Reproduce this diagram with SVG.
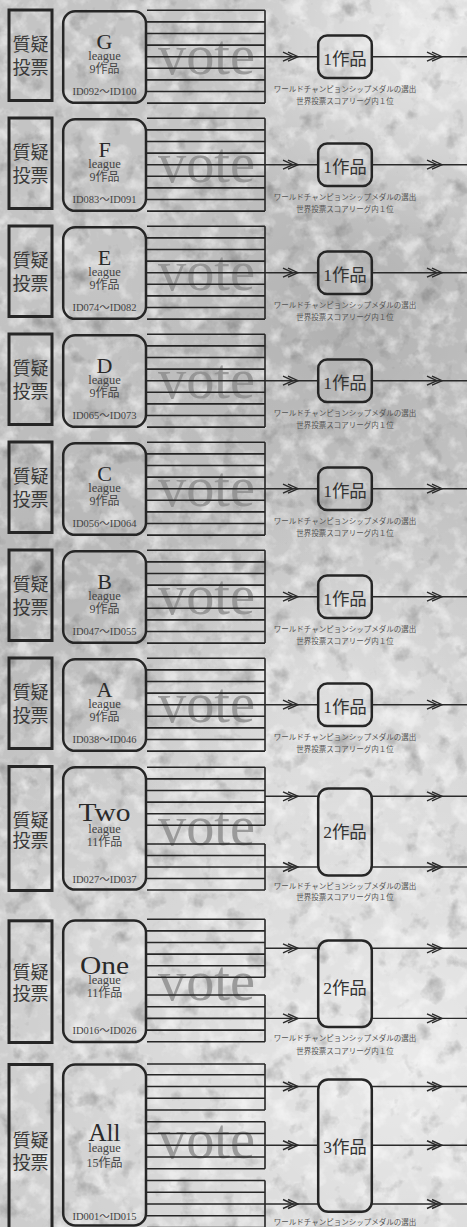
<svg xmlns="http://www.w3.org/2000/svg" xmlns:xlink="http://www.w3.org/1999/xlink" width="467" height="1227" viewBox="0 0 467 1227">
<style>
.frame{fill:none;stroke:#262626;stroke-width:3}
.lg{fill:none;stroke:#262626;stroke-width:2.5}
.res{fill:none;stroke:#262626;stroke-width:2.5}
.ln{fill:none;stroke:#262626;stroke-width:1.6}
.cn{fill:none;stroke:#2a2a2a;stroke-width:1.4}
.q{font-family:"Noto Sans CJK JP",sans-serif;font-size:18px;fill:#3a3a3a;text-anchor:middle}
.big{font-family:"Liberation Serif",serif;font-size:22px;fill:#2a2a2a;text-anchor:middle}
.big2{font-family:"Liberation Serif",serif;font-size:25px;fill:#2a2a2a;text-anchor:middle}
.lea{font-family:"Liberation Serif",serif;font-size:12.5px;fill:#444;text-anchor:middle}
.cnt{font-family:"Liberation Serif","Noto Sans CJK JP",serif;font-size:12px;fill:#444;text-anchor:middle}
.id{font-family:"Liberation Serif","Noto Sans CJK JP",serif;font-size:10.5px;fill:#444;text-anchor:middle}
.vote{font-family:"Liberation Serif",serif;font-size:58px;fill:#8e8e8e;fill-opacity:0.85}
.rt{font-family:"Liberation Serif","Noto Sans CJK JP",serif;font-size:17.5px;fill:#333;text-anchor:middle}
.cap{font-family:"Noto Sans CJK JP",sans-serif;font-size:7.5px;fill:#555;text-anchor:middle}
</style>
<defs>
<radialGradient id="l1" cx="430" cy="30" r="230" gradientUnits="userSpaceOnUse"><stop offset="0" stop-color="#fff" stop-opacity="0.6"/><stop offset="1" stop-color="#fff" stop-opacity="0"/></radialGradient>
<radialGradient id="l2" cx="400" cy="1060" r="540" gradientUnits="userSpaceOnUse"><stop offset="0" stop-color="#fff" stop-opacity="0.65"/><stop offset="1" stop-color="#fff" stop-opacity="0"/></radialGradient>
<radialGradient id="l3" cx="330" cy="700" r="220" gradientUnits="userSpaceOnUse"><stop offset="0" stop-color="#fff" stop-opacity="0.3"/><stop offset="1" stop-color="#fff" stop-opacity="0"/></radialGradient>
<radialGradient id="d1" cx="340" cy="320" r="220" gradientUnits="userSpaceOnUse"><stop offset="0" stop-color="#000" stop-opacity="0.1"/><stop offset="1" stop-color="#000" stop-opacity="0"/></radialGradient>
<radialGradient id="d2" cx="60" cy="560" r="280" gradientUnits="userSpaceOnUse"><stop offset="0" stop-color="#000" stop-opacity="0.07"/><stop offset="1" stop-color="#000" stop-opacity="0"/></radialGradient>
<filter id="nw" x="0" y="0" width="467" height="1227" filterUnits="userSpaceOnUse">
<feTurbulence type="fractalNoise" baseFrequency="0.055" numOctaves="4" seed="7"/>
<feColorMatrix type="matrix" values="0 0 0 0 1 0 0 0 0 1 0 0 0 0 1 3 0 0 0 -1.4"/>
</filter>
<filter id="nd" x="0" y="0" width="467" height="1227" filterUnits="userSpaceOnUse">
<feTurbulence type="fractalNoise" baseFrequency="0.045" numOctaves="4" seed="19"/>
<feColorMatrix type="matrix" values="0 0 0 0 0 0 0 0 0 0 0 0 0 0 0 -3 0 0 0 1.3"/>
</filter>
<path id="chev" class="cn" d="M-15,-4.5 L-5,0 L-15,4.5 M-10,-4.5 L0,0 L-10,4.5"/>
</defs>

<g id="background">
<rect width="467" height="1227" fill="#c4c4c4"/>
<rect width="467" height="1227" fill="url(#d1)"/>
<rect width="467" height="1227" fill="url(#d2)"/>
<rect width="467" height="1227" fill="url(#l1)"/>
<rect width="467" height="1227" fill="url(#l2)"/>
<rect width="467" height="1227" fill="url(#l3)"/>
<rect width="467" height="1227" filter="url(#nw)" opacity="0.5"/>
<rect width="467" height="1227" filter="url(#nd)" opacity="0.22"/>
</g>

<g id="vote-labels">
<text class="vote" x="158" y="74" textLength="97" lengthAdjust="spacingAndGlyphs">vote</text>
<text class="vote" x="158" y="182" textLength="97" lengthAdjust="spacingAndGlyphs">vote</text>
<text class="vote" x="158" y="290" textLength="97" lengthAdjust="spacingAndGlyphs">vote</text>
<text class="vote" x="158" y="398" textLength="97" lengthAdjust="spacingAndGlyphs">vote</text>
<text class="vote" x="158" y="506" textLength="97" lengthAdjust="spacingAndGlyphs">vote</text>
<text class="vote" x="158" y="614" textLength="97" lengthAdjust="spacingAndGlyphs">vote</text>
<text class="vote" x="158" y="722" textLength="97" lengthAdjust="spacingAndGlyphs">vote</text>
<text class="vote" x="158" y="845" textLength="97" lengthAdjust="spacingAndGlyphs">vote</text>
<text class="vote" x="158" y="1000" textLength="97" lengthAdjust="spacingAndGlyphs">vote</text>
<text class="vote" x="158" y="1158" textLength="97" lengthAdjust="spacingAndGlyphs">vote</text>
</g>

<g id="connectors">
<g transform="translate(0,9)">
<path class="ln" d="M147 1.3H265M147 12.9H265M147 24.5H265M147 36.1H265M147 47.7H265M147 59.3H265M147 70.9H265M147 82.5H265M147 94.1H265M265 1.3V94.1"/>
<path class="cn" d="M265 47.7H318M372 47.7H467"/><use href="#chev" x="298" y="47.7"/><use href="#chev" x="442" y="47.7"/>
</g>
<g transform="translate(0,117)">
<path class="ln" d="M147 1.3H265M147 12.9H265M147 24.5H265M147 36.1H265M147 47.7H265M147 59.3H265M147 70.9H265M147 82.5H265M147 94.1H265M265 1.3V94.1"/>
<path class="cn" d="M265 47.7H318M372 47.7H467"/><use href="#chev" x="298" y="47.7"/><use href="#chev" x="442" y="47.7"/>
</g>
<g transform="translate(0,225)">
<path class="ln" d="M147 1.3H265M147 12.9H265M147 24.5H265M147 36.1H265M147 47.7H265M147 59.3H265M147 70.9H265M147 82.5H265M147 94.1H265M265 1.3V94.1"/>
<path class="cn" d="M265 47.7H318M372 47.7H467"/><use href="#chev" x="298" y="47.7"/><use href="#chev" x="442" y="47.7"/>
</g>
<g transform="translate(0,333)">
<path class="ln" d="M147 1.3H265M147 12.9H265M147 24.5H265M147 36.1H265M147 47.7H265M147 59.3H265M147 70.9H265M147 82.5H265M147 94.1H265M265 1.3V94.1"/>
<path class="cn" d="M265 47.7H318M372 47.7H467"/><use href="#chev" x="298" y="47.7"/><use href="#chev" x="442" y="47.7"/>
</g>
<g transform="translate(0,441)">
<path class="ln" d="M147 1.3H265M147 12.9H265M147 24.5H265M147 36.1H265M147 47.7H265M147 59.3H265M147 70.9H265M147 82.5H265M147 94.1H265M265 1.3V94.1"/>
<path class="cn" d="M265 47.7H318M372 47.7H467"/><use href="#chev" x="298" y="47.7"/><use href="#chev" x="442" y="47.7"/>
</g>
<g transform="translate(0,549)">
<path class="ln" d="M147 1.3H265M147 12.9H265M147 24.5H265M147 36.1H265M147 47.7H265M147 59.3H265M147 70.9H265M147 82.5H265M147 94.1H265M265 1.3V94.1"/>
<path class="cn" d="M265 47.7H318M372 47.7H467"/><use href="#chev" x="298" y="47.7"/><use href="#chev" x="442" y="47.7"/>
</g>
<g transform="translate(0,657)">
<path class="ln" d="M147 1.3H265M147 12.9H265M147 24.5H265M147 36.1H265M147 47.7H265M147 59.3H265M147 70.9H265M147 82.5H265M147 94.1H265M265 1.3V94.1"/>
<path class="cn" d="M265 47.7H318M372 47.7H467"/><use href="#chev" x="298" y="47.7"/><use href="#chev" x="442" y="47.7"/>
</g>
<!-- Two -->
<path class="ln" d="M147 767.3H265M147 778.9H265M147 790.5H265M147 802.1H265M147 813.7H265M147 825.3H265M265 767.3V825.3M147 844H265M147 855.5H265M147 867H265M147 878.5H265M147 890H265M265 844V890"/>
<path class="cn" d="M265 796.3H318M372 796.3H467M265 867H318M372 867H467"/>
<use href="#chev" x="298" y="796.3"/><use href="#chev" x="442" y="796.3"/><use href="#chev" x="298" y="867"/><use href="#chev" x="442" y="867"/>
<!-- One -->
<path class="ln" d="M147 919.3H265M147 930.9H265M147 942.5H265M147 954.1H265M147 965.7H265M147 977.3H265M265 919.3V977.3M147 995H265M147 1006.7H265M147 1018.4H265M147 1030.1H265M147 1041.8H265M265 995V1041.8"/>
<path class="cn" d="M265 948.3H318M372 948.3H467M265 1018.4H318M372 1018.4H467"/>
<use href="#chev" x="298" y="948.3"/><use href="#chev" x="442" y="948.3"/><use href="#chev" x="298" y="1018.4"/><use href="#chev" x="442" y="1018.4"/>
<!-- All -->
<path class="ln" d="M147 1064H265M147 1074.75H265M147 1086.5H265M147 1098.25H265M147 1110H265M265 1064V1110M147 1121.75H265M147 1133.5H265M147 1145.25H265M147 1157H265M147 1168.75H265M265 1121.75V1168.75M147 1180.5H265M147 1192.25H265M147 1204H265M147 1215.75H265M147 1227.5H265M265 1180.5V1227.5"/>
<path class="cn" d="M265 1086.5H318M372 1086.5H467M265 1145.25H318M372 1145.25H467M265 1204H318M372 1204H467"/>
<use href="#chev" x="298" y="1086.5"/><use href="#chev" x="442" y="1086.5"/><use href="#chev" x="298" y="1145.25"/><use href="#chev" x="442" y="1145.25"/><use href="#chev" x="298" y="1204"/><use href="#chev" x="442" y="1204"/>
</g>

<!-- G -->
<g id="q-G" transform="translate(0,9)"><rect class="frame" x="9" y="1" width="43" height="90.5"/><text class="q" x="30.5" y="42">質疑</text><text class="q" x="30.5" y="65">投票</text></g>
<g id="league-G" transform="translate(0,9)"><rect class="lg" x="63.2" y="2.3" width="82.8" height="91.5" rx="12"/><text class="big" x="104.5" y="40">G</text><text class="lea" x="104.5" y="50.5">league</text><text class="cnt" x="104.5" y="64">9作品</text><text class="id" x="104.5" y="86.3">ID092〜ID100</text></g>
<g id="result-G" transform="translate(0,9)"><rect class="res" x="318.2" y="26.5" width="53.6" height="42.5" rx="9"/><text class="rt" x="345" y="55.5">1作品</text><text class="cap" x="345" y="83.2">ワールドチャンピョンシップメダルの選出</text><text class="cap" x="345" y="94.5">世界投票スコアリーグ内１位</text></g>
<!-- F -->
<g id="q-F" transform="translate(0,117)"><rect class="frame" x="9" y="1" width="43" height="90.5"/><text class="q" x="30.5" y="42">質疑</text><text class="q" x="30.5" y="65">投票</text></g>
<g id="league-F" transform="translate(0,117)"><rect class="lg" x="63.2" y="2.3" width="82.8" height="91.5" rx="12"/><text class="big" x="104.5" y="40">F</text><text class="lea" x="104.5" y="50.5">league</text><text class="cnt" x="104.5" y="64">9作品</text><text class="id" x="104.5" y="86.3">ID083〜ID091</text></g>
<g id="result-F" transform="translate(0,117)"><rect class="res" x="318.2" y="26.5" width="53.6" height="42.5" rx="9"/><text class="rt" x="345" y="55.5">1作品</text><text class="cap" x="345" y="83.2">ワールドチャンピョンシップメダルの選出</text><text class="cap" x="345" y="94.5">世界投票スコアリーグ内１位</text></g>
<!-- E -->
<g id="q-E" transform="translate(0,225)"><rect class="frame" x="9" y="1" width="43" height="90.5"/><text class="q" x="30.5" y="42">質疑</text><text class="q" x="30.5" y="65">投票</text></g>
<g id="league-E" transform="translate(0,225)"><rect class="lg" x="63.2" y="2.3" width="82.8" height="91.5" rx="12"/><text class="big" x="104.5" y="40">E</text><text class="lea" x="104.5" y="50.5">league</text><text class="cnt" x="104.5" y="64">9作品</text><text class="id" x="104.5" y="86.3">ID074〜ID082</text></g>
<g id="result-E" transform="translate(0,225)"><rect class="res" x="318.2" y="26.5" width="53.6" height="42.5" rx="9"/><text class="rt" x="345" y="55.5">1作品</text><text class="cap" x="345" y="83.2">ワールドチャンピョンシップメダルの選出</text><text class="cap" x="345" y="94.5">世界投票スコアリーグ内１位</text></g>
<!-- D -->
<g id="q-D" transform="translate(0,333)"><rect class="frame" x="9" y="1" width="43" height="90.5"/><text class="q" x="30.5" y="42">質疑</text><text class="q" x="30.5" y="65">投票</text></g>
<g id="league-D" transform="translate(0,333)"><rect class="lg" x="63.2" y="2.3" width="82.8" height="91.5" rx="12"/><text class="big" x="104.5" y="40">D</text><text class="lea" x="104.5" y="50.5">league</text><text class="cnt" x="104.5" y="64">9作品</text><text class="id" x="104.5" y="86.3">ID065〜ID073</text></g>
<g id="result-D" transform="translate(0,333)"><rect class="res" x="318.2" y="26.5" width="53.6" height="42.5" rx="9"/><text class="rt" x="345" y="55.5">1作品</text><text class="cap" x="345" y="83.2">ワールドチャンピョンシップメダルの選出</text><text class="cap" x="345" y="94.5">世界投票スコアリーグ内１位</text></g>
<!-- C -->
<g id="q-C" transform="translate(0,441)"><rect class="frame" x="9" y="1" width="43" height="90.5"/><text class="q" x="30.5" y="42">質疑</text><text class="q" x="30.5" y="65">投票</text></g>
<g id="league-C" transform="translate(0,441)"><rect class="lg" x="63.2" y="2.3" width="82.8" height="91.5" rx="12"/><text class="big" x="104.5" y="40">C</text><text class="lea" x="104.5" y="50.5">league</text><text class="cnt" x="104.5" y="64">9作品</text><text class="id" x="104.5" y="86.3">ID056〜ID064</text></g>
<g id="result-C" transform="translate(0,441)"><rect class="res" x="318.2" y="26.5" width="53.6" height="42.5" rx="9"/><text class="rt" x="345" y="55.5">1作品</text><text class="cap" x="345" y="83.2">ワールドチャンピョンシップメダルの選出</text><text class="cap" x="345" y="94.5">世界投票スコアリーグ内１位</text></g>
<!-- B -->
<g id="q-B" transform="translate(0,549)"><rect class="frame" x="9" y="1" width="43" height="90.5"/><text class="q" x="30.5" y="42">質疑</text><text class="q" x="30.5" y="65">投票</text></g>
<g id="league-B" transform="translate(0,549)"><rect class="lg" x="63.2" y="2.3" width="82.8" height="91.5" rx="12"/><text class="big" x="104.5" y="40">B</text><text class="lea" x="104.5" y="50.5">league</text><text class="cnt" x="104.5" y="64">9作品</text><text class="id" x="104.5" y="86.3">ID047〜ID055</text></g>
<g id="result-B" transform="translate(0,549)"><rect class="res" x="318.2" y="26.5" width="53.6" height="42.5" rx="9"/><text class="rt" x="345" y="55.5">1作品</text><text class="cap" x="345" y="83.2">ワールドチャンピョンシップメダルの選出</text><text class="cap" x="345" y="94.5">世界投票スコアリーグ内１位</text></g>
<!-- A -->
<g id="q-A" transform="translate(0,657)"><rect class="frame" x="9" y="1" width="43" height="90.5"/><text class="q" x="30.5" y="42">質疑</text><text class="q" x="30.5" y="65">投票</text></g>
<g id="league-A" transform="translate(0,657)"><rect class="lg" x="63.2" y="2.3" width="82.8" height="91.5" rx="12"/><text class="big" x="104.5" y="40">A</text><text class="lea" x="104.5" y="50.5">league</text><text class="cnt" x="104.5" y="64">9作品</text><text class="id" x="104.5" y="86.3">ID038〜ID046</text></g>
<g id="result-A" transform="translate(0,657)"><rect class="res" x="318.2" y="26.5" width="53.6" height="42.5" rx="9"/><text class="rt" x="345" y="55.5">1作品</text><text class="cap" x="345" y="83.2">ワールドチャンピョンシップメダルの選出</text><text class="cap" x="345" y="94.5">世界投票スコアリーグ内１位</text></g>
<!-- Two -->
<g id="q-Two"><rect class="frame" x="9" y="766.5" width="43" height="124"/><text class="q" x="30.5" y="826.8">質疑</text><text class="q" x="30.5" y="846.8">投票</text></g>
<g id="league-Two"><rect class="lg" x="63.2" y="767.3" width="82.8" height="122.3" rx="12"/><text class="big2" x="104.5" y="821" textLength="52" lengthAdjust="spacingAndGlyphs">Two</text><text class="lea" x="104.5" y="832.5">league</text><text class="cnt" x="104.5" y="846.2">11作品</text><text class="id" x="104.5" y="882.5">ID027〜ID037</text></g>
<g id="result-Two"><rect class="res" x="318.2" y="788.5" width="53.6" height="87" rx="10"/><text class="rt" x="345" y="838.2">2作品</text><text class="cap" x="345" y="888.5">ワールドチャンピョンシップメダルの選出</text><text class="cap" x="345" y="899.5">世界投票スコアリーグ内１位</text></g>
<!-- One -->
<g id="q-One"><rect class="frame" x="9" y="920.8" width="43" height="121.7"/><text class="q" x="30.5" y="978.5">質疑</text><text class="q" x="30.5" y="1000.1">投票</text></g>
<g id="league-One"><rect class="lg" x="63.2" y="920.5" width="82.8" height="121.6" rx="12"/><text class="big2" x="104.5" y="973.5" textLength="49" lengthAdjust="spacingAndGlyphs">One</text><text class="lea" x="104.5" y="984">league</text><text class="cnt" x="104.5" y="996.5">11作品</text><text class="id" x="104.5" y="1034.2">ID016〜ID026</text></g>
<g id="result-One"><rect class="res" x="318.2" y="940.5" width="53.6" height="86.6" rx="10"/><text class="rt" x="345" y="993.8">2作品</text><text class="cap" x="345" y="1041.2">ワールドチャンピョンシップメダルの選出</text><text class="cap" x="345" y="1053.5">世界投票スコアリーグ内１位</text></g>
<!-- All -->
<g id="q-All"><rect class="frame" x="9" y="1064.5" width="43" height="180"/><text class="q" x="30.5" y="1146.8">質疑</text><text class="q" x="30.5" y="1168.5">投票</text></g>
<g id="league-All"><rect class="lg" x="63.2" y="1064.5" width="82.8" height="161" rx="12"/><text class="big2" x="104.5" y="1141.2">All</text><text class="lea" x="104.5" y="1152.3">league</text><text class="cnt" x="104.5" y="1166.5">15作品</text><text class="id" x="104.5" y="1220.2">ID001〜ID015</text></g>
<g id="result-All"><rect class="res" x="318.2" y="1079.5" width="53.6" height="132.3" rx="10"/><text class="rt" x="345" y="1153.2">3作品</text><text class="cap" x="345" y="1224.5">ワールドチャンピョンシップメダルの選出</text></g>
</svg>
